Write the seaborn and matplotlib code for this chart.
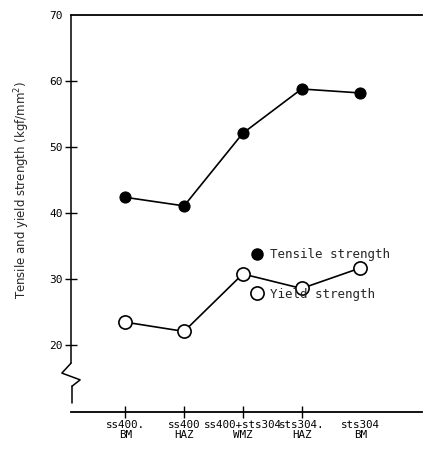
import numpy as np
import pandas as pd
import matplotlib
matplotlib.use("Agg")
import matplotlib.pyplot as plt
import seaborn as sns
from matplotlib.lines import Line2D

# ---- data ----
categories = ["ss400.\nBM", "ss400\nHAZ", "ss400+sts304\nWMZ", "sts304.\nHAZ", "sts304\nBM"]
tensile = [42.4, 41.1, 52.1, 58.8, 58.2]
yield_strength = [23.5, 22.1, 30.8, 28.6, 31.7]
yticks = [20, 30, 40, 50, 60, 70]

sns.set_theme(style="white")
plt.rcParams["font.family"] = ["DejaVu Sans"]

pos = np.arange(len(categories))
df = pd.DataFrame({
    "pos": np.concatenate([pos, pos]),
    "value": tensile + yield_strength,
    "series": ["Tensile strength"] * len(pos) + ["Yield strength"] * len(pos),
})

fig = plt.figure(figsize=(4.23, 4.55), dpi=100)
ax = fig.add_axes([71 / 423, 1 - 412 / 455, 351 / 423, 397 / 455])

sns.lineplot(data=df[df.series == "Tensile strength"], x="pos", y="value", ax=ax,
             color="black", lw=1.2, marker="o", markersize=8,
             markerfacecolor="black", markeredgecolor="black", legend=False)
sns.lineplot(data=df[df.series == "Yield strength"], x="pos", y="value", ax=ax,
             color="black", lw=1.2, marker="o", markersize=9.5,
             markerfacecolor="white", markeredgecolor="black", markeredgewidth=1.2,
             legend=False)

ax.set_xlim(-0.925, 5.05)
ax.set_ylim(9.9, 70)

ax.set_xticks(pos)
ax.set_xticklabels(categories, fontsize=7.8, family="DejaVu Sans Mono", linespacing=0.95)
ax.set_yticks(yticks)
ax.set_yticklabels([str(t) for t in yticks], fontsize=8, family="DejaVu Sans Mono")
ax.tick_params(axis="both", direction="inout", length=8, width=1.0, color="black",
               labelcolor="black", pad=2)
ax.tick_params(axis="y", left=True)
ax.tick_params(axis="x", bottom=True)
ax.yaxis.get_major_ticks()[-1].tick1line.set_visible(False)
ax.xaxis.get_major_ticks()[-1].tick1line.set_visible(False)

ax.set_xlabel("")
ax.set_ylabel("Tensile and yield strength (kgf/mm$^2$)", fontsize=8.5)
ax.yaxis.set_label_coords(-0.11, 0.56)

ax.spines["right"].set_visible(False)
ax.spines["left"].set_visible(False)
ax.spines["top"].set_color("black")
ax.spines["bottom"].set_color("black")
ax.spines["top"].set_linewidth(1.3)
ax.spines["bottom"].set_linewidth(1.3)

# broken left axis with zigzag
kw = dict(transform=ax.transAxes, color="black", lw=1.1, clip_on=False)
ax.plot([0, 0], [1, 0.123], **kw)
ax.plot([0, -0.026, 0.026, 0.003], [0.123, 0.098, 0.081, 0.065], **kw)
ax.plot([0.003, 0.003], [0.065, 0.023], **kw)

handles = [
    Line2D([], [], ls="none", marker="o", markersize=8, markerfacecolor="black",
           markeredgecolor="black", label="Tensile strength"),
    Line2D([], [], ls="none", marker="o", markersize=9.5, markerfacecolor="white",
           markeredgecolor="black", markeredgewidth=1.2, label="Yield strength"),
]
ax.legend(handles=handles, frameon=False, loc="upper left",
          bbox_to_anchor=(0.50, 0.425), prop={"family": "DejaVu Sans Mono", "size": 9},
          handlelength=0.8, handletextpad=0.7, labelspacing=2.1, borderaxespad=0)

fig.savefig("out.png", dpi=100, facecolor="white")
